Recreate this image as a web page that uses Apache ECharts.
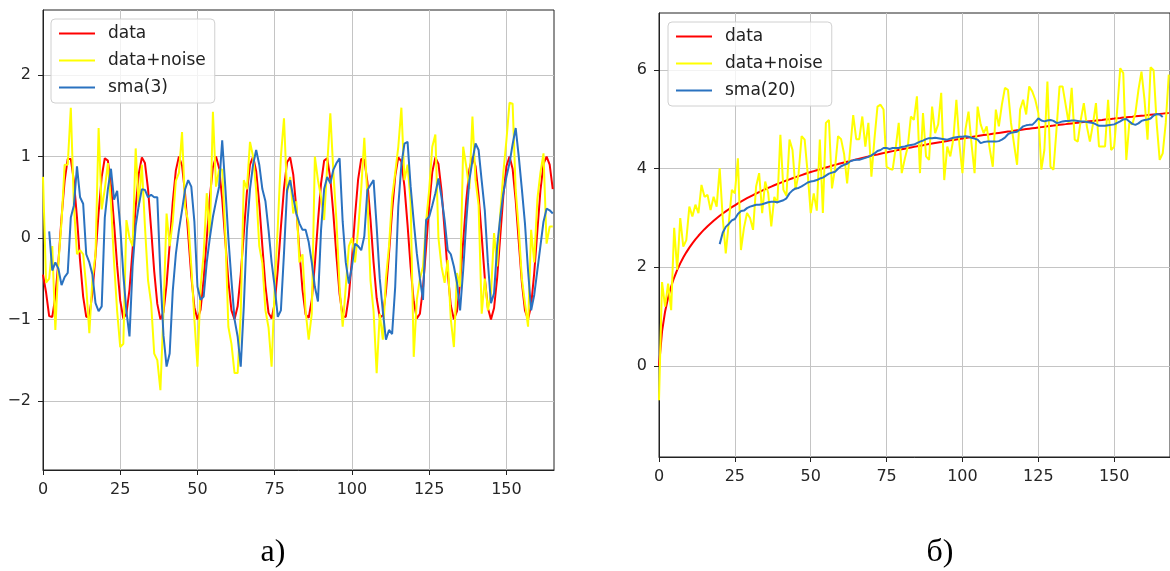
<!DOCTYPE html>
<html><head><meta charset="utf-8">
<script src="https://cdn.jsdelivr.net/npm/echarts@6/dist/echarts.min.js"></script>
<style>html,body{margin:0;padding:0;background:#fff}#c{width:1170px;height:571px}</style>
</head><body><div id="c"></div>
<script>
const xTicksLeft = [0, 25, 50, 75, 100, 125, 150];
const yTicksLeft = [-2, -1, 0, 1, 2];
const xTicksRight = [0, 25, 50, 75, 100, 125, 150];
const yTicksRight = [0, 2, 4, 6];
const captions = ['а)', 'б)'];
const namesLeft = ['data', 'data+noise', 'sma(3)'];
const namesRight = ['data', 'data+noise', 'sma(20)'];

const leftData = [
-0.45,-0.67,-0.96,-0.97,-0.72,-0.28,0.25,0.70,0.97,0.97,
0.70,0.25,-0.28,-0.72,-0.97,-0.96,-0.67,-0.21,0.31,0.75,
0.98,0.95,0.65,0.18,-0.34,-0.77,-0.99,-0.93,-0.63,-0.14,
0.38,0.79,0.99,0.92,0.60,0.11,-0.41,-0.81,-1.00,-0.91,
-0.57,-0.08,0.44,0.83,1.00,0.89,0.54,0.04,-0.47,-0.85,
-1.00,-0.88,-0.51,-0.01,0.50,0.87,1.00,0.86,0.48,-0.03,
-0.53,-0.89,-1.00,-0.84,-0.45,0.06,0.56,0.90,1.00,0.82,
0.42,-0.10,-0.59,-0.92,-0.99,-0.80,-0.39,0.13,0.61,0.93,
0.99,0.78,0.36,-0.16,-0.64,-0.94,-0.98,-0.76,-0.32,0.20,
0.67,0.95,0.98,0.73,0.29,-0.23,-0.69,-0.96,-0.97,-0.71,
-0.26,0.27,0.72,0.97,0.96,0.69,0.23,-0.30,-0.74,-0.98,
-0.95,-0.66,-0.19,0.33,0.76,0.99,0.94,0.63,0.16,-0.36,
-0.78,-0.99,-0.93,-0.61,-0.12,0.40,0.81,0.99,0.91,0.58,
0.09,-0.43,-0.83,-1.00,-0.90,-0.55,-0.05,0.46,0.84,1.00,
0.88,0.52,0.02,-0.49,-0.86,-1.00,-0.86,-0.49,0.02,0.52,
0.88,1.00,0.85,0.46,-0.05,-0.55,-0.89,-1.00,-0.83,-0.43,
0.08,0.58,0.91,1.00,0.90,0.60];

const leftNoise = [
0.75,-0.55,-0.5,-0.1,-1.13,-0.3,0.2,0.9,0.9,1.6,
0.4,-0.2,-0.15,-0.2,-0.6,-1.17,-0.5,-0.2,1.35,0.35,
0.6,0.92,0.43,-0.3,-0.9,-1.34,-1.3,0.22,0,-0.1,
1.1,0.38,0.9,0.14,-0.52,-0.8,-1.42,-1.5,-1.87,-0.9,
0.3,-0.1,0.2,0.7,0.8,1.3,0.38,0.2,-0.35,-1.0,
-1.58,-0.6,-0.2,0.55,0,1.55,0.63,0.84,0.84,0.06,
-1.09,-1.3,-1.66,-1.66,-0.93,0.71,0.6,1.18,1.0,0.59,
-0.1,-0.31,-0.89,-1.1,-1.58,-0.6,0.14,1.0,1.47,0.55,
0.75,0.3,0.45,-0.3,-0.2,-0.9,-1.25,-0.93,1.0,0.71,
0.5,0.22,0.9,1.53,0.8,0.2,-0.6,-1.09,-0.6,-0.1,
0,-0.3,0.1,0.6,1.23,0.5,-0.52,-0.9,-1.66,-0.93,
-1.25,-0.5,-0.1,0.5,0.8,1.12,1.6,0.71,0.9,0.43,
-1.46,-0.76,-0.5,-0.35,0.2,0.59,1.12,1.27,0,-0.35,
-0.55,-0.27,-1.0,-1.34,-0.43,-0.6,1.12,0.88,0.6,1.49,
0.71,0.4,-0.93,-0.5,-0.89,-0.68,0.06,-0.35,0.3,0.8,
1.2,1.66,1.65,0.59,0.1,-0.5,-0.8,-1.09,0.1,-0.3,
0.47,0.8,1.04,-0.07,0.14,0.14];

const leftSma = [
null,null,0.08,-0.4,-0.3,-0.38,-0.58,-0.48,-0.43,0.25,
0.4,0.88,0.5,0.42,-0.2,-0.3,-0.45,-0.8,-0.9,-0.84,
0.25,0.6,0.85,0.47,0.58,0.14,-0.45,-0.9,-1.21,-0.35,
0.15,0.4,0.6,0.59,0.5,0.53,0.5,0.5,-0.45,-1.2,
-1.58,-1.42,-0.65,-0.2,0.1,0.34,0.6,0.71,0.63,0.2,
-0.6,-0.76,-0.72,-0.3,0,0.26,0.45,0.63,1.2,0.63,
0,-0.52,-1.0,-1.21,-1.58,-0.84,0.1,0.6,0.9,1.08,
0.9,0.6,0.45,0.1,-0.3,-0.6,-0.97,-0.89,-0.19,0.59,
0.71,0.5,0.3,0.18,0.1,0.1,-0.05,-0.3,-0.6,-0.78,
0.1,0.6,0.75,0.67,0.84,0.92,0.98,0.2,-0.3,-0.56,
-0.35,-0.07,-0.1,-0.15,0.02,0.59,0.65,0.71,0.14,-0.5,
-0.9,-1.25,-1.13,-1.18,-0.6,0.39,0.9,1.16,1.18,0.63,
0.2,-0.19,-0.5,-0.76,0.22,0.26,0.4,0.55,0.73,0.5,
0.22,-0.15,-0.2,-0.35,-0.55,-0.89,-0.4,0.2,0.71,0.95,
1.16,1.08,0.7,0.34,-0.3,-0.8,-0.68,-0.1,0.25,0.55,
0.75,0.92,1.15,1.35,1.0,0.6,0.18,-0.4,-0.89,-0.7,
-0.4,-0.1,0.2,0.36,0.34,0.3];

const rightData = [
0,0.693,1.099,1.386,1.609,1.792,1.946,2.079,2.197,2.303,
2.398,2.485,2.565,2.639,2.708,2.773,2.833,2.890,2.944,2.996,
3.045,3.091,3.135,3.178,3.219,3.258,3.296,3.332,3.367,3.401,
3.434,3.466,3.497,3.526,3.555,3.584,3.611,3.638,3.664,3.689,
3.714,3.738,3.761,3.784,3.807,3.829,3.850,3.871,3.892,3.912,
3.932,3.951,3.970,3.989,4.007,4.025,4.043,4.060,4.078,4.094,
4.111,4.127,4.143,4.159,4.174,4.190,4.205,4.220,4.234,4.248,
4.263,4.277,4.290,4.304,4.317,4.331,4.344,4.357,4.369,4.382,
4.394,4.407,4.419,4.431,4.443,4.454,4.466,4.477,4.489,4.500,
4.511,4.522,4.533,4.543,4.554,4.564,4.575,4.585,4.595,4.605,
4.615,4.625,4.635,4.644,4.654,4.663,4.673,4.682,4.691,4.700,
4.710,4.718,4.727,4.736,4.745,4.754,4.762,4.771,4.779,4.787,
4.796,4.804,4.812,4.820,4.828,4.836,4.844,4.852,4.860,4.868,
4.875,4.883,4.890,4.898,4.905,4.913,4.920,4.927,4.934,4.942,
4.949,4.956,4.963,4.970,4.977,4.984,4.990,4.997,5.004,5.011,
5.017,5.024,5.030,5.037,5.043,5.050,5.056,5.063,5.069,5.075,
5.081,5.088,5.094,5.100,5.106,5.112,5.118,5.124,5.130];

const rightNoise = [
-0.7,1.7,1.2,1.67,1.13,2.8,1.95,3.0,2.42,2.55,
3.23,3.03,3.27,3.1,3.67,3.43,3.47,3.16,3.43,3.23,
4.01,3.0,2.28,2.9,3.57,3.5,4.21,2.35,2.8,3.1,
3.0,2.76,3.64,3.91,3.1,3.74,3.5,2.83,3.43,3.3,
4.69,3.57,3.45,4.59,4.38,3.57,3.9,4.66,4.59,3.9,
3.1,3.5,3.15,4.59,3.1,4.93,4.99,3.6,4.0,4.66,
4.6,4.3,3.7,4.4,5.09,4.6,4.6,5.06,4.45,4.93,
3.84,4.6,5.26,5.3,5.2,4.04,4.0,3.98,4.42,4.93,
3.91,4.2,4.45,5.06,4.99,5.47,3.91,5.13,4.25,4.18,
5.26,4.72,4.9,5.54,3.77,4.45,4.25,4.6,5.4,4.5,
3.91,4.8,5.16,4.5,3.91,5.26,4.9,4.72,4.86,4.4,
4.04,5.2,4.86,5.3,5.64,5.6,4.93,4.5,4.08,5.2,
5.4,5.1,5.67,5.57,5.4,5.13,3.98,4.38,5.77,4.04,
3.98,4.8,5.67,5.67,5.3,4.93,5.64,4.59,4.55,4.99,
5.33,4.86,4.55,4.9,5.33,4.45,4.45,4.45,5.4,4.38,
4.45,5.2,6.04,5.94,4.18,4.93,4.9,5.13,5.6,5.97,
5.4,4.59,6.06,6.0,4.93,4.18,4.31,4.93,5.91];

const rightSma = [
null,null,null,null,null,null,null,null,null,null,
null,null,null,null,null,null,null,null,null,null,
2.47,2.7,2.82,2.88,2.95,2.98,3.08,3.14,3.15,3.2,
3.23,3.25,3.27,3.27,3.28,3.3,3.32,3.33,3.33,3.32,
3.34,3.36,3.4,3.5,3.56,3.6,3.61,3.64,3.68,3.72,
3.74,3.75,3.77,3.8,3.82,3.86,3.9,3.92,3.94,4.0,
4.05,4.08,4.1,4.15,4.17,4.18,4.18,4.2,4.22,4.24,
4.27,4.31,4.36,4.38,4.42,4.42,4.4,4.42,4.42,4.42,
4.44,4.45,4.47,4.48,4.49,4.52,4.55,4.57,4.6,4.62,
4.62,4.63,4.62,4.61,4.6,4.59,4.61,4.63,4.64,4.65,
4.65,4.66,4.65,4.63,4.61,4.59,4.52,4.54,4.55,4.55,
4.55,4.55,4.56,4.59,4.63,4.7,4.73,4.74,4.75,4.8,
4.86,4.88,4.89,4.89,4.95,5.02,4.98,4.96,4.98,4.99,
4.97,4.93,4.94,4.96,4.97,4.97,4.98,4.98,4.97,4.96,
4.96,4.95,4.94,4.93,4.9,4.87,4.87,4.87,4.88,4.89,
4.9,4.93,4.96,5.0,5.01,4.96,4.91,4.89,4.92,4.97,
4.99,5.0,5.02,5.08,5.11,5.1,5.05,null,null];

const RED = '#ff0000', YEL = '#ffff00', BLUE = '#2a72c0';
const FONT = 'DejaVu Sans';
const pairs = arr => arr.map((v, i) => [i, v]).filter(p => p[1] !== null);
const fmt = v => (v < 0 ? '\u2212' + Math.abs(v) : String(v));

function xAxisCfg(gi, max, ticks) {
  return {
    type: 'value', gridIndex: gi, min: 0, max: max,
    axisLine: { show: true, onZero: false, lineStyle: { color: '#222', width: 1 } },
    axisTick: { show: true, inside: false, length: 5, customValues: ticks, lineStyle: { color: '#222' } },
    axisLabel: { customValues: ticks, margin: 12, color: '#262626', fontSize: 16, fontFamily: FONT, formatter: fmt },
    splitLine: { show: true, lineStyle: { color: '#c4c4c4', width: 1 } }
  };
}
function yAxisCfg(gi, min, max, ticks) {
  return {
    type: 'value', gridIndex: gi, min: min, max: max,
    axisLine: { show: true, onZero: false, lineStyle: { color: '#222', width: 1 } },
    axisTick: { show: true, inside: false, length: 5, customValues: ticks, lineStyle: { color: '#222' } },
    axisLabel: { customValues: ticks, margin: 12, color: '#262626', fontSize: 16, fontFamily: FONT, formatter: fmt },
    splitLine: { show: true, lineStyle: { color: '#c4c4c4', width: 1 } }
  };
}
function lineS(name, arr, color, gi) {
  return {
    type: 'line', name: name, xAxisIndex: gi, yAxisIndex: gi,
    data: pairs(arr), symbol: 'none', showSymbol: false,
    lineStyle: { color: color, width: 2 }, itemStyle: { color: color },
    emphasis: { disabled: true }, animation: false
  };
}
function legendCfg(left, top, names) {
  return {
    orient: 'vertical', left: left, top: top, data: names, selectedMode: false,
    itemWidth: 36, itemHeight: 16, itemGap: 10,
    padding: [6, 9, 7, 7],
    backgroundColor: 'rgba(255,255,255,0.8)', borderColor: '#d0d0d0', borderWidth: 1, borderRadius: 4,
    itemStyle: { opacity: 0, color: 'transparent', borderWidth: 0 },
    lineStyle: { width: 2 },
    textStyle: { fontFamily: FONT, fontSize: 17, color: '#222', padding: [0, 0, 0, 8] }
  };
}

const chart = echarts.init(document.getElementById('c'), null, { renderer: 'canvas' });
chart.setOption({
  animation: false,
  backgroundColor: '#fff',
  grid: [
    { left: 43, top: 10, width: 511, height: 460, show: true, borderColor: '#222', borderWidth: 1, backgroundColor: 'transparent' },
    { left: 659, top: 13, width: 511, height: 444, show: true, borderColor: '#222', borderWidth: 1, backgroundColor: 'transparent' }
  ],
  xAxis: [xAxisCfg(0, 165.4, xTicksLeft), xAxisCfg(1, 168.4, xTicksRight)],
  yAxis: [yAxisCfg(0, -2.85, 2.8, yTicksLeft), yAxisCfg(1, -1.85, 7.16, yTicksRight)],
  legend: [legendCfg(51, 19, namesLeft), legendCfg(668, 22, namesRight)],
  series: [
    lineS(namesLeft[0], leftData, RED, 0),
    lineS(namesLeft[1], leftNoise, YEL, 0),
    lineS(namesLeft[2], leftSma, BLUE, 0),
    lineS(namesRight[0], rightData, RED, 1),
    lineS(namesRight[1], rightNoise, YEL, 1),
    lineS(namesRight[2], rightSma, BLUE, 1)
  ],
  graphic: [
    { type: 'text', x: 273, y: 553, style: { text: captions[0], align: 'center', verticalAlign: 'middle', fontSize: 32, fontFamily: 'Liberation Serif', fill: '#000' } },
    { type: 'text', x: 940, y: 553, style: { text: captions[1], align: 'center', verticalAlign: 'middle', fontSize: 32, fontFamily: 'Liberation Serif', fill: '#000' } }
  ]
});
</script>
</body></html>
